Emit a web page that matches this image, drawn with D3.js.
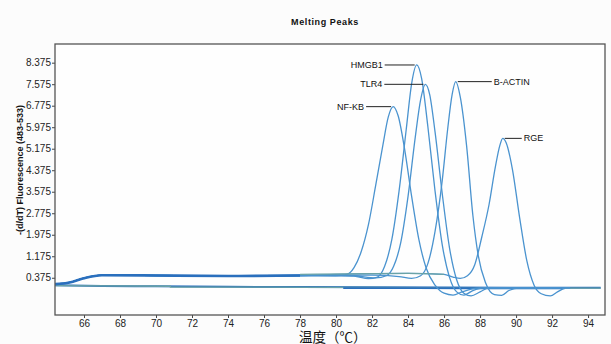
<!DOCTYPE html>
<html><head><meta charset="utf-8">
<script src="https://cdn.jsdelivr.net/npm/d3@7"></script>
<style>body{margin:0;background:#fcfcfc;} svg{display:block;}</style>
</head><body>
<script>
// ---- data ----
const title = "Melting Peaks";
const yLabel = "-(d/dT) Fluorescence (483-533)";
const xLabel = "温度（℃）";
const xTicks = [66,68,70,72,74,76,78,80,82,84,86,88,90,92,94];
const yTicks = [0.375,1.175,1.975,2.775,3.575,4.375,5.175,5.975,6.775,7.575,8.375];

const leftStart = [[64.4,0.14],[65.2,0.2],[66,0.36],[67,0.47],[70,0.46],[74,0.44],[78,0.46]];

const nfkb = leftStart.concat([[80,0.45],[80.6,0.5],[81,0.75],[81.4,1.35],[81.8,2.35],[82.2,3.8],[82.6,5.3],[82.9,6.35],[83.17,6.74],[83.45,6.4],[83.8,5.2],[84.2,3.4],[84.6,1.8],[85,0.75],[85.5,0.1],[86,-0.2],[86.5,-0.27],[87,-0.15],[87.5,-0.05],[88,0],[92,0]]);
const hmgb1 = leftStart.concat([[80,0.46],[81,0.44],[81.8,0.34],[82.3,0.4],[82.7,0.8],[83.1,1.8],[83.5,3.6],[83.9,5.9],[84.2,7.6],[84.48,8.29],[84.75,7.8],[85.1,6.0],[85.5,3.6],[85.9,1.6],[86.3,0.4],[86.7,-0.15],[87.1,-0.27],[87.6,-0.1],[88.2,0],[92.5,0]]);
const tlr4 = leftStart.concat([[80,0.46],[81,0.45],[82.2,0.37],[82.8,0.45],[83.2,0.8],[83.6,1.7],[84,3.4],[84.4,5.6],[84.7,7.0],[84.96,7.57],[85.2,7.2],[85.5,5.8],[85.9,3.5],[86.3,1.5],[86.7,0.3],[87.1,-0.2],[87.5,-0.3],[88,-0.15],[88.5,0],[93,0]]);
const bactin = leftStart.concat([[80,0.47],[82,0.47],[83.5,0.42],[84.2,0.35],[84.7,0.45],[85.1,0.9],[85.5,2.1],[85.9,4.0],[86.2,5.9],[86.45,7.2],[86.65,7.67],[86.9,7.1],[87.25,5.3],[87.6,2.7],[87.9,1.2],[88.3,0.2],[88.8,-0.25],[89.2,-0.28],[89.6,-0.1],[90.2,0],[93,0]]);
const rge = leftStart.concat([[80,0.5],[84,0.54],[86,0.5],[86.5,0.4],[86.9,0.35],[87.3,0.45],[87.7,0.85],[88.1,1.9],[88.5,3.1],[88.85,4.5],[89.1,5.3],[89.26,5.56],[89.45,5.4],[89.8,4.4],[90.2,2.6],[90.6,1.0],[91,0.1],[91.4,-0.22],[91.9,-0.3],[92.3,-0.15],[92.7,0]]);
const ntc1 = [[64.4,0.1],[67,0.07],[70,0.06],[74,0.04],[78,0.03],[82,0.02],[86,0.01],[94.7,0.0]];
const ntc2 = [[64.4,0.08],[70.8,0.06],[70.8,0.03],[73.8,0.03],[80,0.02],[88,0.0],[94.7,-0.01]];
const ntc3 = [[80.4,-0.01],[84.5,-0.01],[90,-0.02],[92.7,-0.02]];
const rgeBase = [[78,0.5],[84,0.54],[86,0.5]];

const seriesNames = ["NF-KB","HMGB1","TLR4","B-ACTIN","RGE"];
const seriesData = [nfkb, hmgb1, tlr4, bactin, rge];
const labelSide = ["left","left","left","right","right"];
const leaderLen = [25,30,39,34,17];

// ---- drawing ----
const W = 611, H = 344;
const m = {l:55, r:605, t:44, b:315};
const svg = d3.select("body").append("svg").attr("width",W).attr("height",H);
svg.append("rect").attr("width",W).attr("height",H).attr("fill","#fcfcfc");

const x = d3.scaleLinear().domain([64.39,94.94]).range([m.l,m.r]);
const y = d3.scaleLinear().domain([-1.01,9.07]).range([m.b,m.t]);

svg.append("rect").attr("x",m.l).attr("y",m.t).attr("width",m.r-m.l).attr("height",m.b-m.t)
  .attr("fill","#fefefe");

svg.append("text").attr("x",325).attr("y",25).attr("text-anchor","middle")
  .attr("font-family","Liberation Sans, Arial, sans-serif").attr("font-weight","bold")
  .attr("font-size",9).attr("letter-spacing",0.6).attr("fill","#111").text(title);

const xa = svg.append("g").attr("transform",`translate(0,${m.b})`)
  .call(d3.axisBottom(x).tickValues(xTicks).tickSize(3).tickPadding(2).tickFormat(d3.format("d")));
const ya = svg.append("g").attr("transform",`translate(${m.l},0)`)
  .call(d3.axisLeft(y).tickValues(yTicks).tickSize(3).tickPadding(1).tickFormat(d3.format(".3f")));
[xa,ya].forEach(a=>{
  a.select(".domain").remove();
  a.selectAll("line").attr("stroke","#444");
  a.selectAll("text").attr("font-family","Liberation Sans, Arial, sans-serif").attr("font-size",10).attr("fill","#222");
});

svg.append("text").attr("transform","translate(23,170) rotate(-90)").attr("text-anchor","middle")
  .attr("font-family","Liberation Sans, Arial, sans-serif").attr("font-weight","bold")
  .attr("font-size",9).attr("fill","#111").text(yLabel);

svg.append("text").attr("x",299).attr("y",342)
  .attr("font-family","Noto Sans CJK SC, sans-serif").attr("font-size",13.5).attr("fill","#111").text(xLabel);

const line = d3.line().x(d=>x(d[0])).y(d=>y(d[1])).curve(d3.curveMonotoneX);
const g = svg.append("g");

// flat controls
g.append("path").datum(ntc1).attr("d",line).attr("fill","none").attr("stroke","#2a6fbd").attr("stroke-width",2);
g.append("path").datum(ntc2).attr("d",line).attr("fill","none").attr("stroke","#6aa3a6").attr("stroke-width",1.3);
g.append("path").datum(ntc3).attr("d",line).attr("fill","none").attr("stroke","#2a6fbd").attr("stroke-width",1.8);

seriesData.forEach((s,i)=>{
  g.append("path").datum(s).attr("d",line).attr("fill","none")
    .attr("stroke","#4a93cf").attr("stroke-width",1.3);
});
g.append("path").datum(rgeBase).attr("d",line).attr("fill","none").attr("stroke","#6aa3a6").attr("stroke-width",1.2);
g.append("path").datum(leftStart).attr("d",line).attr("fill","none").attr("stroke","#2a6fbd").attr("stroke-width",2.6);

// labels
seriesData.forEach((s,i)=>{
  const pk = s.reduce((a,b)=>b[1]>a[1]?b:a);
  const px = x(pk[0]), py = y(pk[1]);
  const dir = labelSide[i]==="left" ? -1 : 1;
  const x0 = px + dir*2, x1 = px + dir*(2+leaderLen[i]);
  svg.append("line").attr("x1",x0).attr("x2",x1).attr("y1",py).attr("y2",py).attr("stroke","#222").attr("stroke-width",1);
  svg.append("text").attr("x",x1 + dir*2).attr("y",py+3)
    .attr("text-anchor", dir<0 ? "end" : "start")
    .attr("font-family","Liberation Sans, Arial, sans-serif").attr("font-size",9).attr("fill","#111").text(seriesNames[i]);
});

// frame
svg.append("rect").attr("x",m.l).attr("y",m.t).attr("width",m.r-m.l).attr("height",m.b-m.t)
  .attr("fill","none").attr("stroke","#555").attr("stroke-width",1.3);
</script>
</body></html>
